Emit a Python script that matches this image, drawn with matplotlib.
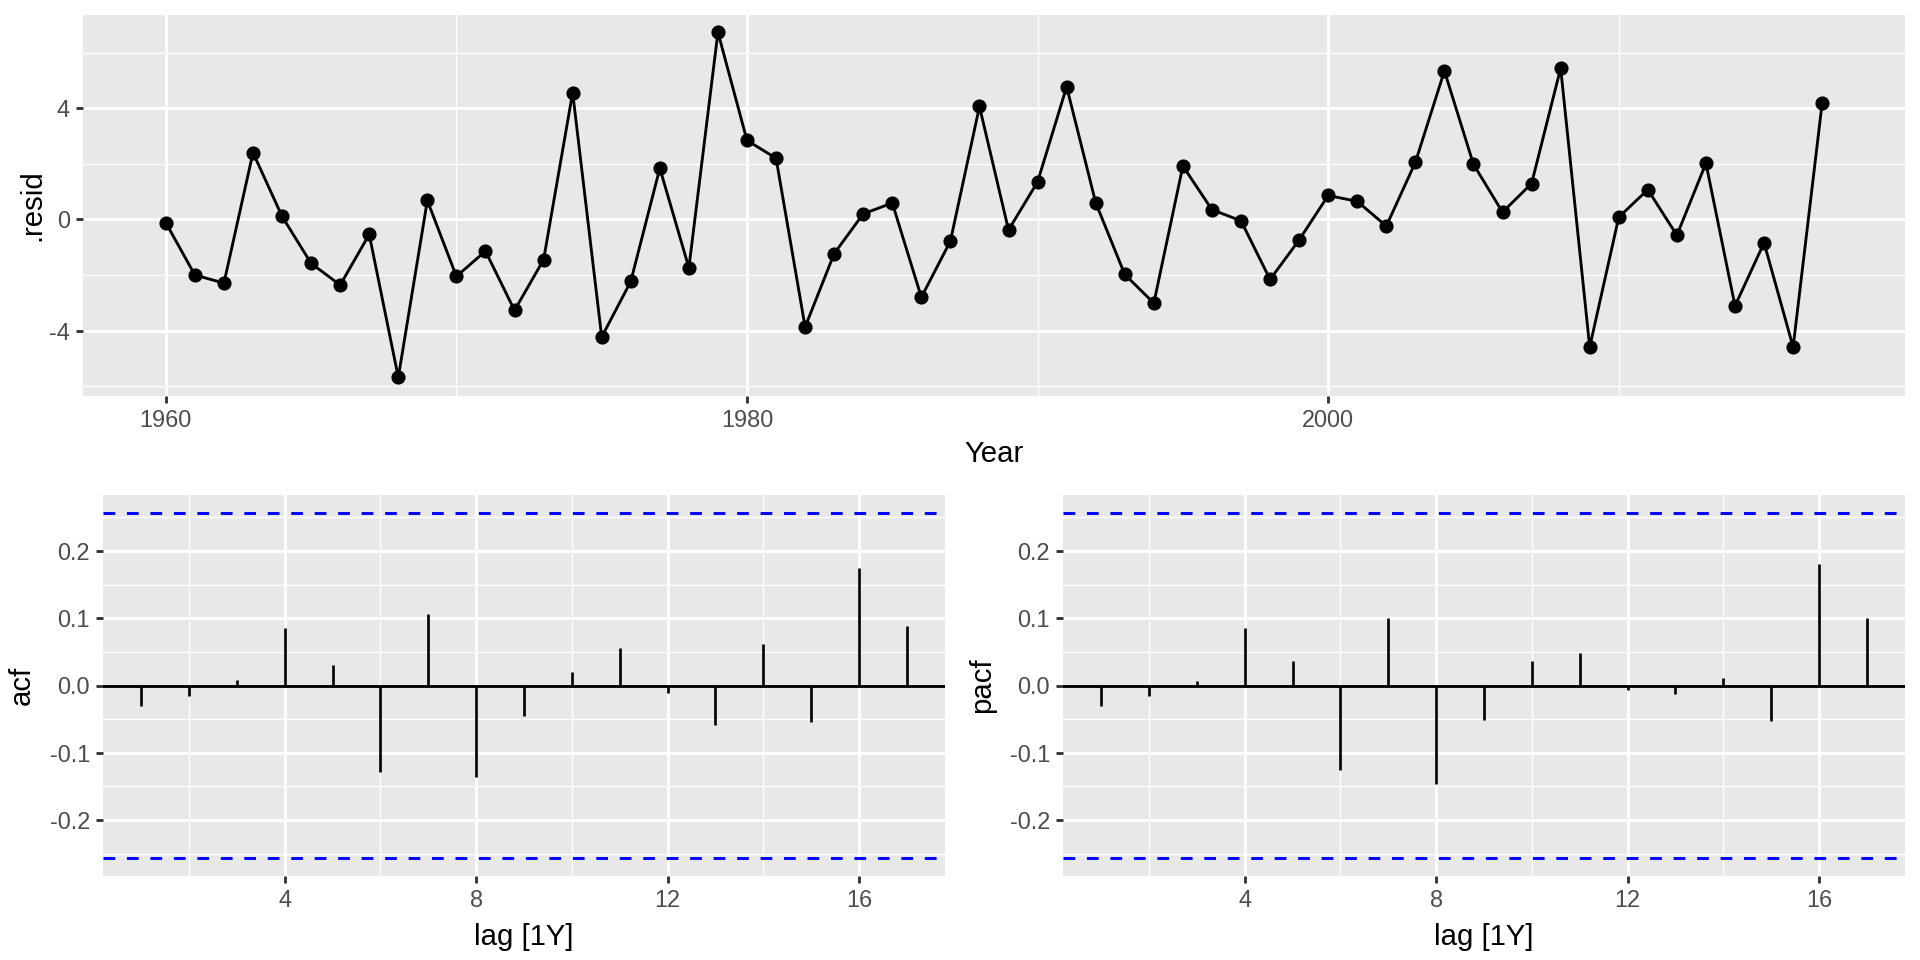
import matplotlib.pyplot as plt
import numpy as np

plt.rcParams['font.family'] = ['Liberation Sans', 'DejaVu Sans']
plt.rcParams['axes.unicode_minus'] = False

# residual series
years = list(range(1960, 2018))
resid = [-0.12, -2.00, -2.29, 2.40, 0.11, -1.58, -2.36, -0.54, -5.68, 0.68,
         -2.05, -1.14, -3.27, -1.45, 4.56, -4.23, -2.23, 1.84, -1.74, 6.73,
         2.84, 2.20, -3.87, -1.23, 0.20, 0.59, -2.80, -0.78, 4.06, -0.38,
         1.35, 4.77, 0.60, -1.98, -3.01, 1.92, 0.35, -0.05, -2.16, -0.74,
         0.86, 0.65, -0.24, 2.05, 5.34, 1.98, 0.26, 1.29, 5.44, -4.59,
         0.08, 1.07, -0.57, 2.02, -3.11, -0.84, -4.59, 4.19]

lags = list(range(1, 18))
acf = [-0.031, -0.015, 0.008, 0.086, 0.031, -0.129, 0.106, -0.136, -0.045,
       0.020, 0.055, -0.011, -0.058, 0.061, -0.054, 0.174, 0.088]
pacf = [-0.031, -0.016, 0.007, 0.086, 0.037, -0.125, 0.100, -0.147, -0.051,
        0.036, 0.048, -0.006, -0.012, 0.011, -0.053, 0.180, 0.100]
ci = 0.257

W, H = 1920, 960
fig = plt.figure(figsize=(10, 5), dpi=192)

BG = '#E8E8E8'
TICKC = '#4D4D4D'


def px_axes(l, t, r, b):
    return fig.add_axes([l / W, 1 - b / H, (r - l) / W, (b - t) / H])


def gg_style(ax):
    ax.set_facecolor(BG)
    for s in ax.spines.values():
        s.set_visible(False)
    ax.grid(True, which='major', color='white', lw=1.07)
    ax.grid(True, which='minor', color='white', lw=0.53)
    ax.set_axisbelow(True)
    ax.tick_params(which='major', length=2.75, width=1.07, color='#333333',
                   labelsize=8.8, labelcolor=TICKC, pad=2.2)
    ax.tick_params(which='minor', length=0)


# top: residuals
ax = px_axes(83, 15, 1905, 396)
gg_style(ax)
ax.plot(years, resid, color='black', lw=1.07, marker='o', ms=4.3, zorder=3)
ax.set_xlim(1957.15, 2019.85)
ax.set_ylim(-6.35, 7.35)
ax.set_xticks([1960, 1980, 2000])
ax.set_xticks([1970, 1990, 2010], minor=True)
ax.set_yticks([-4, 0, 4])
ax.set_yticks([-6, -2, 2, 6], minor=True)
ax.set_xlabel('Year', fontsize=11, labelpad=3)
ax.set_ylabel('.resid', fontsize=11, labelpad=1)


def corr_panel(l, r, vals, name):
    a = px_axes(l, 495, r, 876)
    gg_style(a)
    a.axhline(0, color='black', lw=1.07, zorder=2)
    a.vlines(lags, 0, vals, color='black', lw=1.0, zorder=3)
    for v in (ci, -ci):
        a.axhline(v, color='blue', lw=1.1, dashes=(4, 4), zorder=2)
    a.set_xlim(0.2, 17.8)
    a.set_ylim(-0.283, 0.283)
    a.set_xticks([4, 8, 12, 16])
    a.set_xticks([2, 6, 10, 14], minor=True)
    a.set_yticks([-0.2, -0.1, 0.0, 0.1, 0.2])
    a.set_yticklabels(['-0.2', '-0.1', '0.0', '0.1', '0.2'])
    a.set_yticks([-0.25, -0.15, -0.05, 0.05, 0.15, 0.25], minor=True)
    a.set_xlabel('lag [1Y]', fontsize=11, labelpad=4)
    a.set_ylabel(name, fontsize=11, labelpad=5)
    return a


corr_panel(103, 945, acf, 'acf')
corr_panel(1063, 1905, pacf, 'pacf')

fig.savefig('out.png', dpi=192, facecolor='white')
